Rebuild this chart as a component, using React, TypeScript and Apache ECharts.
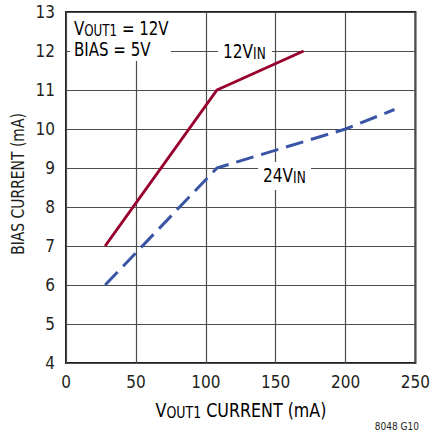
import { useEffect, useRef } from "react";
import * as echarts from "echarts";

// Load current (mA) vs. bias current (mA)
const xTicks = [0, 50, 100, 150, 200, 250];
const yTicks = [4, 5, 6, 7, 8, 9, 10, 11, 12, 13];
const vin12Current = [28, 108, 170];
const vin12Bias = [7, 11, 12];
const vin24Current = [28, 108, 200, 235];
const vin24Bias = [6, 9, 10, 10.5];

const FONT = "'Liberation Sans Narrow', 'DejaVu Sans Condensed', 'Arial Narrow', sans-serif";
const TEXT = "#231f20";
const RED = "#98002e";
const BLUE = "#3a55a6";

// main text and lowered subscript tokens
const rich = {
  m: { fontFamily: FONT, fontSize: 19, lineHeight: 20, color: TEXT },
  s: { fontFamily: FONT, fontSize: 15, lineHeight: 14, color: TEXT, verticalAlign: "bottom" },
};

export default function App() {
  const ref = useRef<HTMLDivElement>(null);
  useEffect(() => {
    if (!ref.current) return;
    const chart = echarts.init(ref.current, null, { renderer: "svg" });
    const pair = (xs: number[], ys: number[]) => xs.map((x, i) => [x, ys[i]]);
    chart.setOption({
      animation: false,
      backgroundColor: "#ffffff",
      grid: { left: 66, top: 12, width: 352, height: 351, show: true, borderColor: "#231f20", borderWidth: 2, backgroundColor: "transparent" },
      xAxis: {
        type: "value",
        min: xTicks[0],
        max: xTicks[xTicks.length - 1],
        interval: 50,
        axisLine: { show: false },
        axisTick: { show: false },
        axisLabel: { fontFamily: FONT, fontSize: 17, color: TEXT, margin: 10 },
        splitLine: { show: true, lineStyle: { color: "#4d4d4d", width: 1.2 } },
      },
      yAxis: {
        type: "value",
        min: yTicks[0],
        max: yTicks[yTicks.length - 1],
        interval: 1,
        axisLine: { show: false },
        axisTick: { show: false },
        axisLabel: { fontFamily: FONT, fontSize: 17, color: TEXT, margin: 11 },
        splitLine: { show: true, lineStyle: { color: "#4d4d4d", width: 1.2 } },
      },
      series: [
        {
          name: "12VIN",
          type: "line",
          data: pair(vin12Current, vin12Bias),
          showSymbol: false,
          lineStyle: { color: RED, width: 3 },
          z: 3,
        },
        {
          name: "24VIN",
          type: "line",
          data: pair(vin24Current, vin24Bias),
          showSymbol: false,
          lineStyle: { color: BLUE, width: 3, type: [18, 8] },
          z: 3,
        },
      ],
      graphic: [
        { type: "rect", shape: { x: 70, y: 13, width: 101, height: 48 }, style: { fill: "#fff" }, z: 10 },
        {
          type: "text", x: 74, y: 28, scaleX: 0.88, z: 11,
          style: { text: "{m|V}{s|OUT1}{m| = 12V}", rich, fontFamily: FONT, verticalAlign: "middle" },
        },
        {
          type: "text", x: 74, y: 49, scaleX: 0.88, z: 11,
          style: { text: "{m|BIAS = 5V}", rich, fontFamily: FONT, verticalAlign: "middle" },
        },
        { type: "rect", shape: { x: 218, y: 40, width: 54, height: 24 }, style: { fill: "#fff" }, z: 10 },
        {
          type: "text", x: 223, y: 51, scaleX: 0.9, z: 11,
          style: { text: "{m|12V}{s|IN}", rich, fontFamily: FONT, verticalAlign: "middle" },
        },
        { type: "rect", shape: { x: 258, y: 162, width: 53, height: 28 }, style: { fill: "#fff" }, z: 10 },
        {
          type: "text", x: 263, y: 175, scaleX: 0.9, z: 11,
          style: { text: "{m|24V}{s|IN}", rich, fontFamily: FONT, verticalAlign: "middle" },
        },
        {
          type: "text", x: 241, y: 410, scaleX: 0.93, z: 11,
          style: { text: "{m|V}{s|OUT1}{m| CURRENT (mA)}", rich, fontFamily: FONT, align: "center", verticalAlign: "middle" },
        },
        {
          type: "text", x: 18, y: 184, rotation: Math.PI / 2, scaleX: 0.86, z: 11,
          style: { text: "BIAS CURRENT (mA)", fontFamily: FONT, fontSize: 18, fill: TEXT, align: "center", verticalAlign: "middle" },
        },
        {
          type: "text", x: 419, y: 426, z: 11,
          style: { text: "8048 G10", fontFamily: FONT, fontSize: 10, fill: TEXT, align: "right", verticalAlign: "middle" },
        },
      ],
    });
    return () => chart.dispose();
  }, []);
  return <div ref={ref} style={{ width: 433, height: 435, position: "absolute", left: 0, top: 0 }} />;
}
